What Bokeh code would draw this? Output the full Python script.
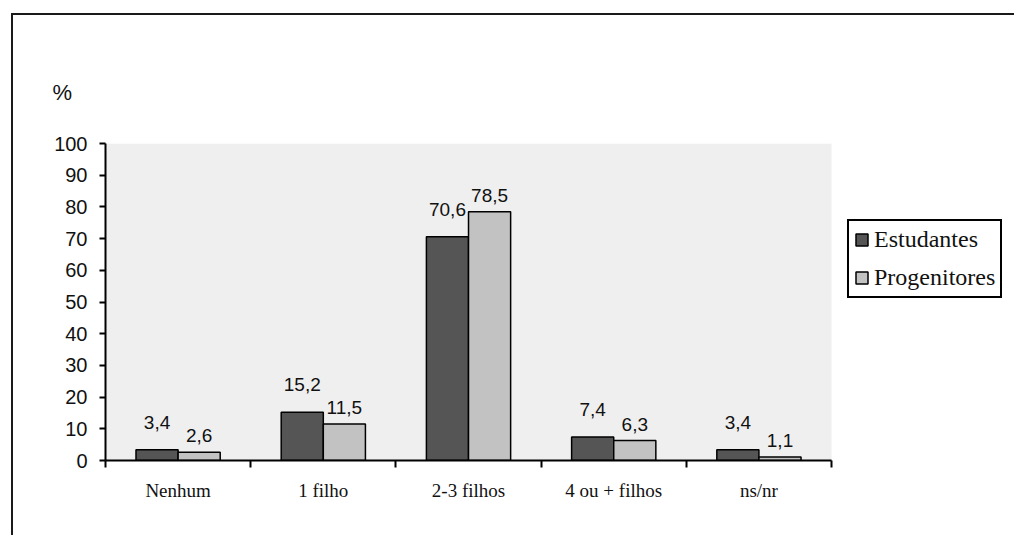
import numpy as np
from bokeh.plotting import figure
from bokeh.models import (ColumnDataSource, FixedTicker, Legend, LegendItem,
                          LabelSet, Range1d, Title)
from bokeh.core.properties import value
from bokeh.embed import file_html
from bokeh.resources import INLINE

categories = ["Nenhum", "1 filho", "2-3 filhos", "4 ou + filhos", "ns/nr"]
estudantes = [3.4, 15.2, 70.6, 7.4, 3.4]
progenitores = [2.6, 11.5, 78.5, 6.3, 1.1]
y_ticks = [0, 10, 20, 30, 40, 50, 60, 70, 80, 90, 100]
series_names = ["Estudantes", "Progenitores"]

def fmt(v):
    return f"{v:.1f}".replace(".", ",")

n = len(categories)
ymax = y_ticks[-1]
centers = np.arange(n) + 0.5
bw = 0.29
src_e = ColumnDataSource(dict(x=centers - bw / 2, y=estudantes, t=[fmt(v) for v in estudantes]))
src_p = ColumnDataSource(dict(x=centers + bw / 2, y=progenitores, t=[fmt(v) for v in progenitores]))

# frame extended to the right so that the legend sits inside the canvas area
p = figure(width=1003, height=522, output_backend="svg", toolbar_location=None,
           x_range=Range1d(0, 6.26), y_range=Range1d(0, ymax),
           min_border_left=92, min_border_top=128, min_border_bottom=77, min_border_right=2)
p.styles = {"margin-left": "11px", "margin-top": "13px",
            "border-left": "2px solid #1a1a1a", "border-top": "2px solid #1a1a1a"}
p.outline_line_color = None
p.background_fill_color = "white"
p.border_fill_color = "white"
p.xgrid.visible = False
p.ygrid.visible = False

# plot-area background (only over the category region)
p.quad(left=[0], right=[n], bottom=[0], top=[ymax], fill_color="#efefef", line_color=None)

r_e = p.vbar(x="x", top="y", width=bw, source=src_e, fill_color="#555555",
             line_color="black", line_width=1.5)
r_p = p.vbar(x="x", top="y", width=bw, source=src_p, fill_color="#c2c2c2",
             line_color="black", line_width=1.5)

p.add_layout(LabelSet(x="x", y="y", text="t", source=src_e, text_align="center",
                      text_baseline="alphabetic", y_offset=21, text_font_size=value("19px"),
                      text_font=value("Liberation Sans"), text_color="#111111"))
p.add_layout(LabelSet(x="x", y="y", text="t", source=src_p, text_align="center",
                      text_baseline="alphabetic", y_offset=10, text_font_size=value("19px"),
                      text_font=value("Liberation Sans"), text_color="#111111"))

# axes
p.yaxis.ticker = FixedTicker(ticks=y_ticks)
p.yaxis.major_tick_out = 6
p.yaxis.major_tick_in = 0
p.yaxis.minor_tick_line_color = None
p.yaxis.major_label_text_font = "Liberation Sans"
p.yaxis.major_label_text_font_size = "20px"
p.yaxis.major_label_text_color = "#111111"
p.yaxis.major_label_standoff = 12
p.yaxis.axis_line_width = 2
p.yaxis.major_tick_line_width = 2

p.xaxis.bounds = (0, n)
p.xaxis.ticker = FixedTicker(ticks=list(centers), minor_ticks=list(range(n + 1)))
p.xaxis.major_label_overrides = {float(c): lab for c, lab in zip(centers, categories)}
p.xaxis.major_tick_out = 0
p.xaxis.major_tick_in = 0
p.xaxis.minor_tick_out = 7
p.xaxis.minor_tick_in = 0
p.xaxis.minor_tick_line_width = 2
p.xaxis.axis_line_width = 2
p.xaxis.major_label_text_font = "Liberation Serif"
p.xaxis.major_label_text_font_size = "19px"
p.xaxis.major_label_text_color = "#111111"
p.xaxis.major_label_standoff = 12

p.add_layout(Title(text="%", align="left", offset=-53, standoff=78,
                   text_font="Liberation Sans", text_font_size="22px",
                   text_font_style="normal", text_color="#111111"), "above")

legend = Legend(items=[LegendItem(label=series_names[0], renderers=[r_e]),
                       LegendItem(label=series_names[1], renderers=[r_p])],
                location=(742, 162))
legend.label_text_font = "Liberation Serif"
legend.label_text_font_size = "24px"
legend.label_text_color = "#111111"
legend.glyph_width = 15
legend.glyph_height = 15
legend.label_standoff = 5
legend.padding = 5
legend.spacing = 11
legend.margin = 0
legend.border_line_color = "black"
legend.border_line_alpha = 1
legend.border_line_width = 2
legend.background_fill_color = "white"
legend.background_fill_alpha = 1
p.add_layout(legend)

open("out.html", "w").write(file_html(p, INLINE))
